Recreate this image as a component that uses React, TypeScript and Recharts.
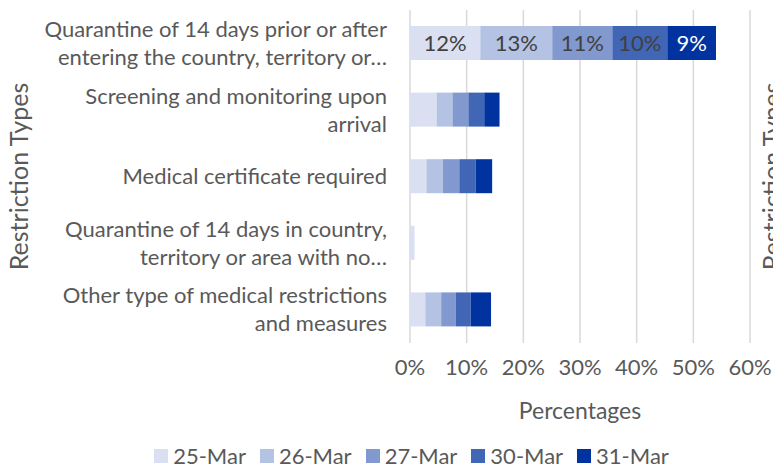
import { BarChart, Bar, XAxis, YAxis, CartesianGrid, Legend, LabelList } from 'recharts';

const CATEGORIES = [
  'Quarantine of 14 days prior or after entering the country, territory or…',
  'Screening and monitoring upon arrival',
  'Medical certificate required',
  'Quarantine of 14 days in country, territory or area with no…',
  'Other type of medical restrictions and measures',
];

const SERIES = ['25-Mar', '26-Mar', '27-Mar', '30-Mar', '31-Mar'];

const MAR25 = [12.4, 4.7, 2.9, 0.8, 2.7];
const MAR26 = [12.7, 2.8, 2.9, 0, 2.8];
const MAR27 = [10.6, 2.8, 2.9, 0, 2.6];
const MAR30 = [9.7, 2.8, 2.9, 0, 2.6];
const MAR31 = [8.6, 2.7, 2.9, 0, 3.6];

const X_TICKS = [0, 10, 20, 30, 40, 50, 60];

const COLORS = ['#DAE0F1', '#B4C3E4', '#8199CF', '#4166B5', '#0033A0'];
const LABEL_COLORS = ['#404040', '#404040', '#404040', '#404040', '#FFFFFF'];

const FONT = 'Lato, "Open Sans", sans-serif';
const GREY = '#595959';

const data = CATEGORIES.map((name, i) => ({
  name,
  '25-Mar': MAR25[i],
  '26-Mar': MAR26[i],
  '27-Mar': MAR27[i],
  '30-Mar': MAR30[i],
  '31-Mar': MAR31[i],
}));

// simple word wrap, Excel style
function wrap(text: string, max = 36) {
  const words = text.split(' ');
  const lines: string[] = [];
  let cur = '';
  words.forEach((w) => {
    const next = cur ? cur + ' ' + w : w;
    if (next.length > max && cur) {
      lines.push(cur);
      cur = w;
    } else {
      cur = next;
    }
  });
  if (cur) lines.push(cur);
  return lines;
}

const CategoryTick = ({ x, y, payload }: any) => {
  const lines = wrap(payload.value);
  const lh = 28;
  const start = y - ((lines.length - 1) * lh) / 2;
  return (
    <text x={x - 15} textAnchor="end" fill={GREY} fontSize={22} fontFamily={FONT}>
      {lines.map((l, i) => (
        <tspan key={i} x={x - 15} y={start + i * lh} dy="0.35em">
          {l}
        </tspan>
      ))}
    </text>
  );
};

const makeLabel = (color: string) => (props: any) => {
  const { x, y, width, height, value, index } = props;
  if (index !== 0) return null;
  return (
    <text
      x={x + width / 2}
      y={y + height / 2}
      dy="0.35em"
      textAnchor="middle"
      fill={color}
      fontSize={22}
      fontFamily={FONT}
    >
      {`${Math.round(value)}%`}
    </text>
  );
};

const axisTitle = (cx: number) => (props: any) => {
  const { viewBox } = props;
  const cy = viewBox.y + viewBox.height / 2;
  return (
    <text
      x={cx}
      y={cy}
      transform={`rotate(-90, ${cx}, ${cy})`}
      textAnchor="middle"
      dominantBaseline="central"
      fill={GREY}
      fontSize={25}
      fontFamily={FONT}
    >
      Restriction Types
    </text>
  );
};

const LegendContent = () => (
  <div
    style={{
      display: 'flex',
      justifyContent: 'center',
      gap: 14,
      fontFamily: FONT,
      fontSize: 22,
      color: GREY,
      paddingLeft: 50,
      paddingTop: 19,
    }}
  >
    {SERIES.map((s, i) => (
      <span key={s} style={{ display: 'flex', alignItems: 'center' }}>
        <span
          style={{ width: 14, height: 14, background: COLORS[i], display: 'inline-block', marginRight: 5 }}
        />
        {s}
      </span>
    ))}
  </div>
);

export default function App() {
  return (
    <div style={{ position: 'absolute', left: 0, top: 0, width: 773, height: 468, background: '#fff' }}>
      <BarChart
        width={773}
        height={468}
        data={data}
        layout="vertical"
        margin={{ top: 10, right: 0, left: 0, bottom: 0 }}
        barSize={34}
      >
        <CartesianGrid horizontal={false} stroke="#D9D9D9" strokeWidth={1.5} />
        <XAxis
          type="number"
          domain={[0, 60]}
          ticks={X_TICKS}
          tickFormatter={(v) => `${v}%`}
          axisLine={false}
          tickLine={false}
          height={80}
          tickMargin={10}
          tick={{ fill: GREY, fontSize: 22, fontFamily: FONT }}
          label={{
            value: 'Percentages',
            position: 'insideBottom',
            offset: 4,
            fill: GREY,
            fontSize: 23,
            fontFamily: FONT,
          }}
        />
        <YAxis
          type="category"
          dataKey="name"
          width={410}
          axisLine={false}
          tickLine={false}
          tick={<CategoryTick />}
          interval={0}
          label={{ content: axisTitle(18) }}
        />
        <YAxis
          yAxisId="right"
          orientation="right"
          type="category"
          dataKey="name"
          width={23}
          axisLine={false}
          tickLine={false}
          tick={false}
          label={{ content: axisTitle(771) }}
        />
        <Legend verticalAlign="bottom" height={45} content={<LegendContent />} />
        {SERIES.map((s, i) => (
          <Bar key={s} dataKey={s} stackId="a" fill={COLORS[i]} isAnimationActive={false}>
            <LabelList dataKey={s} content={makeLabel(LABEL_COLORS[i])} />
          </Bar>
        ))}
      </BarChart>
    </div>
  );
}
